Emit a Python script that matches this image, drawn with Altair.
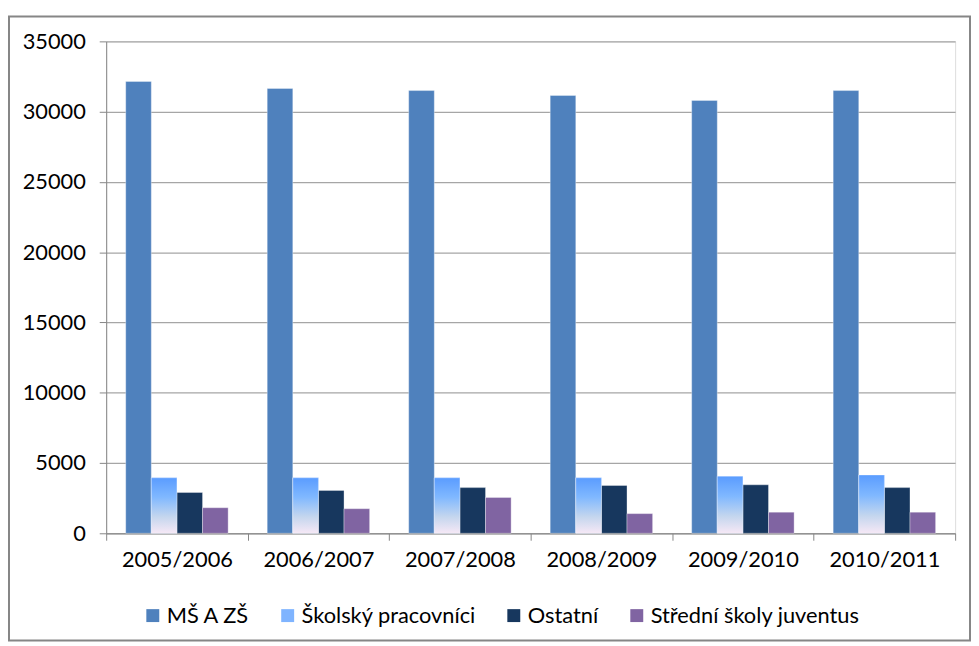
import altair as alt
import pandas as pd

years = ["2005/2006", "2006/2007", "2007/2008", "2008/2009", "2009/2010", "2010/2011"]
series = ["MŠ A ZŠ", "Školský pracovníci", "Ostatní", "Střední školy juventus"]
ms_zs = [32150, 31650, 31500, 31150, 30800, 31500]
skolsky = [3950, 3950, 3950, 3950, 4050, 4150]
ostatni = [2900, 3050, 3250, 3400, 3450, 3250]
stredni = [1820, 1750, 2550, 1400, 1500, 1500]
colors = ["#4f81bd", "#7fb4ff", "#17375e", "#8064a2"]

rows = []
for name, vals in zip(series, [ms_zs, skolsky, ostatni, stredni]):
    for y, v in zip(years, vals):
        rows.append({"year": y, "series": name, "value": v})
df = pd.DataFrame(rows)

FONT = "Lato"
FS = 22

x_enc = alt.X("year:N", sort=years, title=None,
              scale=alt.Scale(paddingInner=0, paddingOuter=0),
              axis=alt.Axis(labelAngle=0, labelFontSize=FS, labelColor="#000000",
                            labelFont=FONT, labelPadding=9, tickBand="extent",
                            tickSize=7, tickColor="#868686", domainColor="#868686",
                            grid=False))
y_enc = alt.Y("value:Q", title=None,
              scale=alt.Scale(domain=[0, 35000], nice=False),
              axis=alt.Axis(values=list(range(0, 35001, 5000)), format="d",
                            labelFontSize=FS, labelFont=FONT, labelColor="#000000",
                            labelPadding=14, tickSize=7, tickColor="#868686",
                            domainColor="#868686", gridColor="#a6a6a6", gridWidth=1.2))
xoff = alt.XOffset("series:N", sort=series,
                   scale=alt.Scale(domain=series, paddingInner=0, paddingOuter=0.7625))

bars = alt.Chart(df).mark_bar(stroke="#ffffff", strokeOpacity=0.35, strokeWidth=1).encode(
    x=x_enc, y=y_enc, xOffset=xoff,
    color=alt.Color("series:N", sort=series,
                    scale=alt.Scale(domain=series, range=colors),
                    legend=alt.Legend(title=None, orient="none", direction="horizontal",
                                      legendX=36, legendY=568, symbolType="square",
                                      symbolSize=170, symbolStrokeWidth=0,
                                      labelFontSize=FS, labelFont=FONT, labelLimit=0,
                                      labelColor="#000000", columnPadding=27,
                                      labelOffset=3)),
)

grad = alt.Gradient(gradient="linear", x1=0, x2=0, y1=0, y2=1,
                    stops=[alt.GradientStop(offset=0, color="#5a9cff"),
                           alt.GradientStop(offset=0.35, color="#80b8ff"),
                           alt.GradientStop(offset=0.7, color="#c4d6ee"),
                           alt.GradientStop(offset=1, color="#f6e8f6")])

grad_bars = alt.Chart(df).transform_filter(
    alt.datum.series == "Školský pracovníci"
).mark_bar(color=grad, stroke="#ffffff", strokeOpacity=0.35, strokeWidth=1).encode(
    x=alt.X("year:N", sort=years), y=alt.Y("value:Q"), xOffset=xoff,
)

frame = alt.Chart(df).mark_rect(filled=False, stroke="#868686", strokeWidth=2, clip=False).encode(
    x=alt.value(-98), x2=alt.value(871), y=alt.value(-25), y2=alt.value(604)
).transform_filter(alt.datum.year == "2005/2006").transform_filter(alt.datum.series == "MŠ A ZŠ")

chart = alt.layer(bars, grad_bars, frame).properties(
    width=856, height=496,
    padding={"left": 99, "top": 31, "right": 16, "bottom": 111},
    autosize=alt.AutoSizeParams(type="none"),
).configure_view(stroke=None).configure(background="#ffffff")

chart.save("out.html", embed_options={"renderer": "svg", "actions": False})
